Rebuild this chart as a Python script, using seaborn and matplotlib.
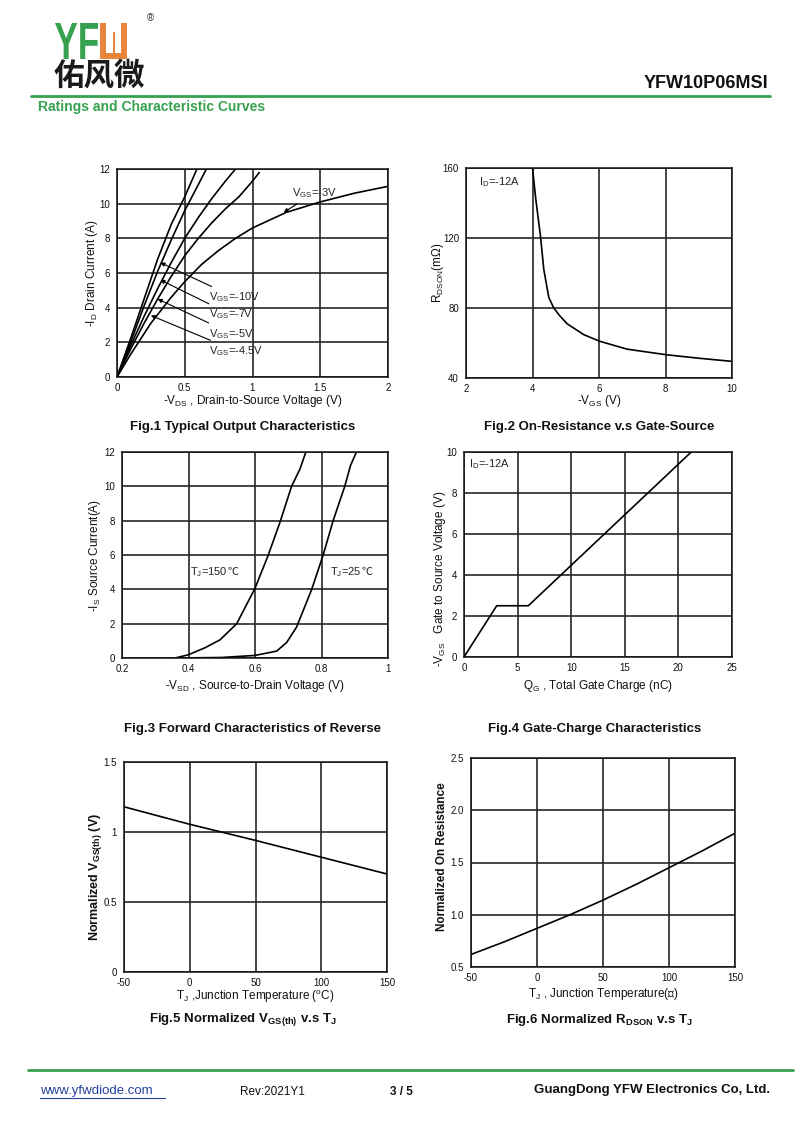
import matplotlib
matplotlib.use("Agg")
import matplotlib.pyplot as plt
import pandas as pd
import seaborn as sns
from matplotlib import transforms
from matplotlib.font_manager import FontProperties
from matplotlib.patches import PathPatch, Rectangle
from matplotlib.textpath import TextPath

W, H = 800, 1131
GREEN = "#36a14f"
ORANGE = "#e8853c"
GRID = "#262626"

# Fig.1 output characteristics (-VDS in V, -ID in A)
vgs_labels = ["-10V", "-7V", "-5V", "-4.5V", "-3V"]
vds_10 = [0, 0.1, 0.2, 0.3, 0.4, 0.5, 0.59]
id_10 = [0, 2.2, 4.5, 6.8, 8.8, 10.4, 12.0]
vds_7 = [0, 0.1, 0.2, 0.3, 0.4, 0.5, 0.6, 0.66]
id_7 = [0, 2.0, 4.1, 6.1, 7.9, 9.6, 11.1, 12.0]
vds_5 = [0, 0.1, 0.2, 0.3, 0.4, 0.5, 0.6, 0.7, 0.8, 0.875]
id_5 = [0, 1.8, 3.5, 5.1, 6.6, 8.0, 9.2, 10.3, 11.3, 12.0]
vds_45 = [0, 0.1, 0.2, 0.3, 0.4, 0.5, 0.6, 0.7, 0.8, 0.9, 1.0, 1.05]
id_45 = [0, 1.6, 3.1, 4.5, 5.8, 7.0, 8.0, 8.9, 9.7, 10.4, 11.3, 11.8]
vds_3 = [0, 0.1, 0.25, 0.4, 0.5, 0.625, 0.75, 0.875, 1.0, 1.25, 1.5, 1.75, 2.0]
id_3 = [0, 1.3, 3.1, 4.6, 5.5, 6.5, 7.3, 8.0, 8.6, 9.5, 10.1, 10.6, 11.0]

# Fig.2 on-resistance vs gate-source voltage
vgs2 = [4.0, 4.1, 4.24, 4.34, 4.49, 4.64, 4.8, 5.04, 5.54, 6.02, 6.84, 8.02, 9.0, 10.0]
rdson2 = [160, 142, 121, 102, 86, 80, 76, 71, 64.8, 61, 56.5, 53.3, 51.3, 49.5]

# Fig.3 body diode forward characteristics
vsd_150 = [0.36, 0.4, 0.45, 0.495, 0.545, 0.6, 0.64, 0.675, 0.71, 0.735, 0.753]
is_150 = [0.0, 0.19, 0.6, 1.06, 2.0, 4.06, 6.0, 7.9, 10.0, 11.0, 12.0]
vsd_25 = [0.36, 0.5, 0.6, 0.665, 0.695, 0.725, 0.77, 0.805, 0.835, 0.87, 0.887, 0.905]
is_25 = [0.0, 0.03, 0.15, 0.4, 0.9, 1.8, 3.97, 6.0, 8.0, 10.0, 11.2, 12.0]

# Fig.4 gate charge
qg = [0, 3.05, 6.0, 21.2]
vgs4 = [0, 2.5, 2.5, 10.0]

# Fig.5 normalized VGS(th) vs TJ
tj5 = [-50, 0, 50, 100, 150]
vth5 = [1.18, 1.055, 0.94, 0.82, 0.70]

# Fig.6 normalized RDSON vs TJ
tj6 = [-50, -25, 0, 25, 50, 75, 100, 125, 150]
rn6 = [0.62, 0.74, 0.87, 1.0, 1.14, 1.29, 1.45, 1.61, 1.78]

sns.set_theme(style="white")
plt.rcParams["font.family"] = ["Liberation Sans", "Noto Sans CJK SC", "DejaVu Sans"]
plt.rcParams["mathtext.fontset"] = "custom"
plt.rcParams["mathtext.rm"] = "Liberation Sans"
plt.rcParams["mathtext.it"] = "Liberation Sans:italic"
plt.rcParams["mathtext.bf"] = "Liberation Sans:bold"
plt.rcParams["mathtext.default"] = "regular"
plt.rcParams["mathtext.fallback"] = "stixsans"
plt.rcParams["axes.unicode_minus"] = False

fig = plt.figure(figsize=(W / 100, H / 100), dpi=100)


def px_axes(x0, y0, x1, y1):
    return fig.add_axes([x0 / W, 1 - y1 / H, (x1 - x0) / W, (y1 - y0) / H])


def ftext(x, y, s, **kw):
    return fig.text(x / W, 1 - y / H, s, **kw)


def frect(x0, y0, x1, y1, color):
    fig.add_artist(Rectangle((x0 / W, 1 - y1 / H), (x1 - x0) / W, (y1 - y0) / H,
                             transform=fig.transFigure, color=color, lw=0))


def style(ax, xlim, ylim, xticks, yticks, xtl=None, ytl=None):
    ax.set_xlim(*xlim)
    ax.set_ylim(*ylim)
    ax.set_xticks(xticks)
    ax.set_yticks(yticks)
    if xtl is not None:
        ax.set_xticklabels(xtl)
    if ytl is not None:
        ax.set_yticklabels(ytl)
    ax.grid(True, color=GRID, lw=1.2)
    ax.tick_params(length=0, labelsize=7, colors="#111111")
    ax.tick_params(axis="x", pad=4)
    ax.tick_params(axis="y", pad=5)
    for sp in ax.spines.values():
        sp.set_color("#111111")
        sp.set_linewidth(1.1)


def labels(ax, xl, yl, xy, yx, ybox, yw="normal", ys=8.5):
    # xy: xlabel centre (page px, y), yx: ylabel centre (page px, x)
    x0, y0, x1, y1 = ybox
    ax.set_xlabel(xl, fontsize=8.5, color="#111111")
    ax.set_ylabel(yl, fontsize=ys, color="#111111", fontweight=yw)
    ax.xaxis.label.set_va("center")
    ax.yaxis.label.set_va("center")
    ax.xaxis.set_label_coords(0.5, -(xy - y1) / (y1 - y0))
    ax.yaxis.set_label_coords(-(x0 - yx) / (x1 - x0), 0.5)


def draw(ax, x, y):
    sns.lineplot(x=x, y=y, ax=ax, color="black", lw=1.2, sort=False, estimator=None)


def temp_label(ax, x, y, s):
    # mathtext has no ℃ glyph here, so the sign is a separate text chained to it
    t = ax.text(x, y, s, fontsize=8, va="center")
    ax.annotate("℃", xy=(1, 0.5), xycoords=t, va="center", ha="left", fontsize=8,
                family=["Noto Sans CJK SC", "DejaVu Sans"])


# ---- Fig.1
box1 = (117, 169, 388, 377)
ax1 = px_axes(*box1)
df1 = pd.concat([
    pd.DataFrame({"vds": vx, "id": iy, "vgs": lab})
    for vx, iy, lab in zip([vds_10, vds_7, vds_5, vds_45, vds_3],
                           [id_10, id_7, id_5, id_45, id_3], vgs_labels)
])
sns.lineplot(data=df1, x="vds", y="id", hue="vgs", units="vgs", estimator=None,
             sort=False, palette={k: "black" for k in vgs_labels}, lw=1.2,
             legend=False, ax=ax1)
style(ax1, (0, 2), (0, 12), [0, 0.5, 1, 1.5, 2], [0, 2, 4, 6, 8, 10, 12],
      ["0", "0.5", "1", "1.5", "2"])
labels(ax1, "-V$_{DS}$ , Drain-to-Source Voltage (V)", "-I$_{D}$ Drain Current (A)",
       401, 92, box1)
arrow = dict(arrowstyle="-|>", color="black", lw=0.8, mutation_scale=6,
             shrinkA=1, shrinkB=0)
ann = [("V$_{GS}$=-10V", (0.68, 4.6), (0.32, 6.6)),
       ("V$_{GS}$=-7V", (0.68, 3.6), (0.32, 5.6)),
       ("V$_{GS}$=-5V", (0.68, 2.5), (0.30, 4.5)),
       ("V$_{GS}$=-4.5V", (0.68, 1.5), (0.25, 3.55))]
for txt, pos, tip in ann:
    ax1.annotate(txt, xy=tip, xytext=pos, fontsize=8, va="center", ha="left",
                 arrowprops=arrow)
ax1.annotate("V$_{GS}$=-3V", xy=(1.23, 9.5), xytext=(1.29, 10.6), fontsize=8,
             va="center", ha="left", arrowprops=arrow)

# ---- Fig.2
box2 = (466, 168, 732, 378)
ax2 = px_axes(*box2)
draw(ax2, vgs2, rdson2)
style(ax2, (2, 10), (40, 160), [2, 4, 6, 8, 10], [40, 80, 120, 160])
labels(ax2, "-V$_{GS}$ (V)", "R$_{DSON}$(mΩ)", 401, 438, box2)
ax2.text(2.4, 152, "I$_{D}$=-12A", fontsize=8, va="center")

# ---- Fig.3
box3 = (122, 452, 388, 658)
ax3 = px_axes(*box3)
draw(ax3, vsd_150, is_150)
draw(ax3, vsd_25, is_25)
style(ax3, (0.2, 1), (0, 12), [0.2, 0.4, 0.6, 0.8, 1.0], [0, 2, 4, 6, 8, 10, 12],
      ["0.2", "0.4", "0.6", "0.8", "1"])
labels(ax3, "-V$_{SD}$ , Source-to-Drain Voltage (V)", "-I$_{S}$ Source Current(A)",
       686, 95, box3)
temp_label(ax3, 0.405, 5.0, "T$_{J}$=150")
temp_label(ax3, 0.825, 5.0, "T$_{J}$=25")

# ---- Fig.4
box4 = (464, 452, 732, 657)
ax4 = px_axes(*box4)
draw(ax4, qg, vgs4)
style(ax4, (0, 25), (0, 10), [0, 5, 10, 15, 20, 25], [0, 2, 4, 6, 8, 10])
labels(ax4, "Q$_{G}$ , Total Gate Charge (nC)", "-V$_{GS}$   Gate to Source Voltage (V)",
       686, 440, box4)
ax4.yaxis.set_label_coords(-(464 - 440) / 268, 0.38)
ax4.text(0.5, 9.4, "I$_{D}$=-12A", fontsize=8, va="center")

# ---- Fig.5
box5 = (124, 762, 387, 972)
ax5 = px_axes(*box5)
draw(ax5, tj5, vth5)
style(ax5, (-50, 150), (0, 1.5), [-50, 0, 50, 100, 150], [0, 0.5, 1, 1.5],
      ytl=["0", "0.5", "1", "1.5"])
labels(ax5, "T$_{J}$ ,Junction Temperature ($^{o}$C)", r"Normalized V$_{\mathbf{GS(th)}}$ (V)",
       997, 96, box5, yw="bold", ys=9)
ax5.yaxis.set_label_coords(-(124 - 96) / 263, 0.45)

# ---- Fig.6
box6 = (471, 758, 735, 967)
ax6 = px_axes(*box6)
draw(ax6, tj6, rn6)
style(ax6, (-50, 150), (0.5, 2.5), [-50, 0, 50, 100, 150], [0.5, 1.0, 1.5, 2.0, 2.5],
      ytl=["0.5", "1.0", "1.5", "2.0", "2.5"])
labels(ax6, "T$_{J}$ , Junction Temperature(℃)", "Normalized On Resistance",
       994, 442, box6, yw="bold", ys=8.5)
ax6.yaxis.set_label_coords(-(471 - 442) / 264, 0.53)

# ---- captions
cap = dict(fontsize=9.5, fontweight="bold", ha="center", va="center", color="#111111")
ftext(243, 427, "Fig.1 Typical Output Characteristics", **cap)
ftext(599, 427, "Fig.2 On-Resistance v.s Gate-Source", **cap)
ftext(252, 729, "Fig.3 Forward Characteristics of Reverse", **cap)
ftext(595, 729, "Fig.4 Gate-Charge Characteristics", **cap)
ftext(243, 1020, r"Fig.5 Normalized V$_{\mathbf{GS(th)}}$ v.s T$_{\mathbf{J}}$", **cap)
ftext(599, 1020, r"Fig.6 Normalized R$_{\mathbf{DSON}}$ v.s T$_{\mathbf{J}}$", **cap)

# ---- header
fp = FontProperties(family="Liberation Sans", weight="bold")
tp = TextPath((0, 0), "YF", size=1, prop=fp)
bb = tp.get_extents()
lx0, ly0, lx1, ly1 = 55, 23, 98, 59
tr = (transforms.Affine2D().translate(-bb.x0, -bb.y0)
      .scale((lx1 - lx0) / bb.width / W, (ly1 - ly0) / bb.height / H)
      .translate(lx0 / W, 1 - ly1 / H) + fig.transFigure)
fig.add_artist(PathPatch(tp, transform=tr, color=GREEN, lw=0))
frect(100, 23, 106, 59, ORANGE)
frect(121, 23, 127, 59, ORANGE)
frect(100, 53, 127, 59, ORANGE)
frect(112.7, 32, 114.9, 53, ORANGE)
ftext(150, 18, "®", fontsize=7, ha="center", va="center", color="#333333")
ftext(99, 76, "佑风微", fontsize=22, fontweight="bold", ha="center", va="center",
      family=["Noto Sans CJK SC", "DejaVu Sans"], color="#1a1a1a")
ftext(768, 84, "YFW10P06MSI", fontsize=13, fontweight="bold", ha="right", va="center",
      color="#111111")
fig.add_artist(plt.Line2D([31 / W, 770 / W], [1 - 96 / H, 1 - 96 / H],
                          transform=fig.transFigure, color=GREEN, lw=2))
ftext(38, 107, "Ratings and Characteristic Curves", fontsize=10, fontweight="bold",
      color=GREEN, va="center")

# ---- footer
fig.add_artist(plt.Line2D([28 / W, 793 / W], [1 - 1070 / H, 1 - 1070 / H],
                          transform=fig.transFigure, color=GREEN, lw=2))
ftext(40, 1091, "www.yfwdiode.com", fontsize=9.5, color="#22409a", va="center")
fig.add_artist(plt.Line2D([40 / W, 165 / W], [1 - 1098 / H, 1 - 1098 / H],
                          transform=fig.transFigure, color="#22409a", lw=0.8))
ftext(240, 1092, "Rev:2021Y1", fontsize=8.5, color="#111111", va="center")
ftext(390, 1092, "3 / 5", fontsize=8.5, fontweight="bold", color="#111111", va="center")
ftext(770, 1090, "GuangDong YFW Electronics Co, Ltd.", fontsize=9.5, fontweight="bold",
      color="#111111", va="center", ha="right")

fig.savefig("out.png", dpi=100, facecolor="white")
